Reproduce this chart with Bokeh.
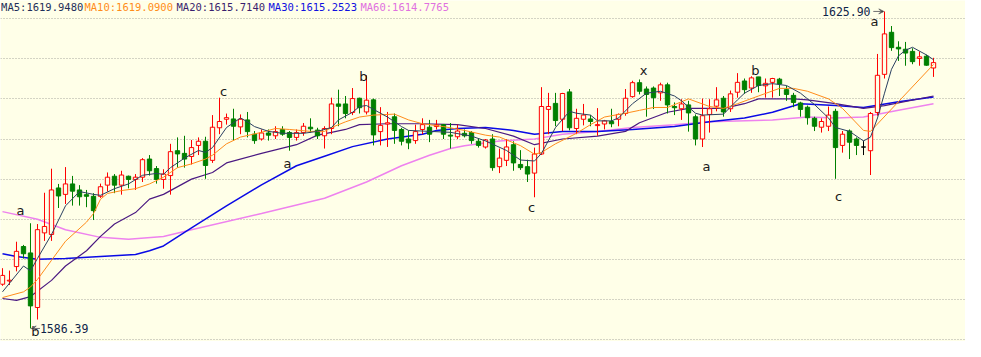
from bokeh.plotting import figure
from bokeh.models import Range1d, FixedTicker, ColumnDataSource, Arrow, VeeHead
from bokeh.core.properties import value
from bokeh.embed import file_html
from bokeh.resources import INLINE

# ---------------- data ----------------
opens = [1591.9, 1592.3, 1594.1, 1596.6, 1595.8, 1589.0, 1598.3, 1598.1, 1603.9, 1603.1,
         1604.4, 1603.65, 1603.06, 1602.86, 1602.86, 1604.25, 1605.36, 1604.25, 1605.36, 1604.96,
         1605.24, 1607.5, 1606.31, 1604.96, 1605.44, 1608.54, 1608.21, 1607.82, 1609.2, 1609.72,
         1607.34, 1611.4, 1612.46, 1612.5, 1611.51, 1612.38, 1610.6, 1610.0, 1610.75, 1610.4,
         1611.19, 1610.8, 1610.2, 1610.8, 1611.47, 1611.11, 1610.4, 1611.31, 1614.37, 1614.37,
         1613.3, 1615.08, 1613.37, 1614.88, 1610.92, 1611.87, 1612.77, 1611.19, 1610.0, 1609.8,
         1611.19, 1611.47, 1611.55, 1611.79, 1610.48, 1610.28, 1610.71, 1610.8, 1609.72, 1609.0,
         1610.0, 1606.55, 1607.34, 1609.29, 1606.83, 1606.55, 1605.75, 1608.13, 1613.69, 1614.44,
         1612.46, 1615.87, 1611.31, 1612.46, 1612.5, 1611.67, 1611.87, 1612.18, 1612.46, 1613.18,
         1615.28, 1617.02, 1616.23, 1616.35, 1615.75, 1616.75, 1614.05, 1613.77, 1614.25, 1612.77,
         1610.0, 1613.06, 1614.09, 1615.08, 1613.77, 1615.83, 1617.23, 1616.35, 1617.74, 1616.63,
         1617.06, 1617.46, 1616.15, 1615.44, 1614.49, 1613.96, 1612.58, 1611.47, 1611.59, 1613.45,
         1609.2, 1611.0, 1610.0, 1609.0, 1608.54, 1613.3, 1618.06, 1623.3, 1621.43, 1621.19,
         1620.92, 1620.04, 1620.32, 1618.85]
highs = [1593.9, 1593.6, 1597.2, 1596.8, 1599.5, 1599.4, 1603.3, 1606.3, 1604.4, 1606.5,
         1605.4, 1604.25, 1603.65, 1603.25, 1604.44, 1605.83, 1605.63, 1606.04, 1605.44, 1605.63,
         1607.62, 1608.0, 1606.63, 1606.23, 1609.4, 1610.2, 1610.4, 1609.88, 1610.2, 1610.28,
         1612.98, 1615.15, 1613.17, 1613.77, 1613.06, 1613.37, 1610.99, 1611.19, 1611.19, 1611.59,
         1611.59, 1610.99, 1611.19, 1611.99, 1612.58, 1611.4, 1611.59, 1615.15, 1616.15, 1615.36,
         1616.35, 1615.15, 1617.94, 1615.04, 1613.97, 1613.37, 1613.18, 1611.39, 1611.07, 1611.79,
         1612.58, 1612.38, 1612.38, 1611.87, 1611.99, 1611.79, 1611.19, 1610.99, 1610.0, 1610.0,
         1610.6, 1608.81, 1610.0, 1609.72, 1608.61, 1607.42, 1608.93, 1616.46, 1615.75, 1615.75,
         1615.75, 1616.23, 1613.77, 1614.37, 1612.98, 1613.85, 1612.38, 1613.77, 1613.18, 1616.23,
         1617.26, 1617.42, 1616.55, 1616.55, 1617.02, 1617.02, 1614.56, 1614.96, 1614.76, 1613.06,
         1615.04, 1614.96, 1616.46, 1615.36, 1616.04, 1618.21, 1617.54, 1617.82, 1617.74, 1617.54,
         1617.62, 1617.62, 1616.63, 1615.75, 1614.64, 1614.17, 1612.78, 1612.58, 1614.05, 1613.77,
         1611.0, 1611.19, 1610.2, 1609.8, 1613.37, 1620.6, 1625.9, 1624.08, 1622.18, 1622.1,
         1621.31, 1620.92, 1620.51, 1620.12]
lows = [1591.7, 1591.8, 1593.5, 1595.1, 1586.39, 1587.5, 1597.3, 1597.3, 1601.4, 1601.9,
        1601.7, 1601.7, 1601.5, 1599.9, 1602.66, 1603.45, 1603.25, 1603.06, 1603.85, 1603.65,
        1604.64, 1605.44, 1604.44, 1603.8, 1603.06, 1606.43, 1606.43, 1606.82, 1608.0, 1605.04,
        1607.02, 1610.6, 1611.79, 1609.8, 1610.6, 1610.2, 1609.4, 1609.8, 1609.8, 1610.0,
        1610.4, 1608.54, 1609.8, 1610.4, 1610.8, 1610.0, 1608.81, 1610.6, 1611.59, 1612.58,
        1612.98, 1613.18, 1613.06, 1609.2, 1609.2, 1609.01, 1609.4, 1609.2, 1608.73, 1609.4,
        1610.6, 1609.61, 1611.19, 1610.0, 1608.81, 1610.0, 1610.2, 1609.4, 1608.93, 1608.81,
        1606.04, 1605.75, 1606.63, 1606.04, 1606.15, 1604.64, 1602.74, 1608.01, 1610.6, 1611.59,
        1610.99, 1611.07, 1610.6, 1611.7, 1611.59, 1610.4, 1611.19, 1611.47, 1611.59, 1612.9,
        1615.15, 1615.56, 1612.78, 1613.73, 1614.76, 1613.18, 1612.98, 1612.38, 1610.92, 1609.2,
        1609.0, 1610.8, 1613.45, 1612.78, 1613.37, 1615.15, 1615.63, 1615.75, 1615.83, 1615.15,
        1615.15, 1615.36, 1614.76, 1613.96, 1612.78, 1611.79, 1610.99, 1610.8, 1610.99, 1605.04,
        1608.3, 1607.5, 1608.0, 1608.0, 1605.51, 1612.9, 1617.54, 1620.99, 1619.73, 1619.13,
        1619.32, 1619.13, 1619.13, 1617.74]
closes = [1593.0, 1592.4, 1596.0, 1595.7, 1589.2, 1598.7, 1599.1, 1603.65, 1602.9, 1604.4,
          1603.5, 1602.8, 1602.86, 1601.07, 1604.05, 1605.24, 1604.25, 1605.51, 1604.96, 1605.24,
          1607.42, 1606.04, 1604.96, 1605.63, 1608.42, 1608.14, 1607.5, 1608.93, 1609.72, 1606.7,
          1611.47, 1612.18, 1612.66, 1611.59, 1612.46, 1610.92, 1609.8, 1610.75, 1610.48, 1610.92,
          1610.6, 1610.2, 1610.8, 1611.59, 1611.27, 1610.4, 1611.31, 1614.37, 1614.08, 1613.17,
          1615.04, 1613.9, 1614.84, 1610.51, 1611.7, 1612.02, 1611.07, 1609.72, 1609.52, 1610.92,
          1611.79, 1610.6, 1611.75, 1610.6, 1610.36, 1610.99, 1610.4, 1609.8, 1609.2, 1609.88,
          1606.43, 1607.62, 1609.01, 1607.02, 1606.43, 1605.63, 1608.13, 1614.05, 1614.05, 1612.3,
          1615.67, 1611.4, 1612.58, 1612.98, 1612.18, 1611.79, 1612.26, 1611.9, 1613.06, 1615.08,
          1617.02, 1615.95, 1615.56, 1615.15, 1616.75, 1614.25, 1613.9, 1614.37, 1613.25, 1610.0,
          1612.9, 1613.77, 1614.88, 1613.37, 1615.63, 1617.06, 1616.15, 1617.62, 1616.67, 1616.94,
          1617.54, 1616.87, 1615.56, 1614.56, 1613.69, 1612.65, 1611.59, 1612.18, 1612.98, 1608.93,
          1610.6, 1609.6, 1609.2, 1609.0, 1613.18, 1617.94, 1623.1, 1621.39, 1621.23, 1620.71,
          1619.64, 1620.24, 1619.2, 1619.52]

ma5_idx = [0, 3, 4, 5, 7, 9, 11, 13, 14, 16, 18, 20, 22, 23, 24, 26, 28, 29, 30, 32, 34, 35, 36, 38,
           40, 43, 45, 47, 48, 50, 51, 52, 54, 55, 57, 58, 61, 64, 67, 69, 72, 74, 76, 77, 79, 81,
           82, 84, 85, 87, 88, 90, 92, 94, 96, 97, 99, 100, 103, 105, 106, 108, 110, 112, 114, 116,
           118, 119, 121, 123, 124, 125, 126, 127, 128, 129, 130, 131, 132, 133]
ma5_val = [1590.95, 1594.17, 1593.57, 1595.12, 1598.1, 1601.67, 1603.45, 1603.1, 1602.98, 1603.81,
           1604.4, 1605.48, 1605.71, 1605.6, 1606.43, 1607.62, 1608.57, 1608.33, 1608.93, 1611.43,
           1612.62, 1612.14, 1611.55, 1610.95, 1610.71, 1610.71, 1610.95, 1611.43, 1612.38, 1613.33,
           1614.05, 1614.17, 1613.21, 1612.74, 1611.55, 1611.07, 1610.95, 1610.83, 1610.36, 1609.76,
           1608.57, 1607.38, 1607.26, 1608.21, 1611.43, 1613.45, 1613.21, 1612.98, 1612.26, 1612.26,
           1612.62, 1614.4, 1615.71, 1615.95, 1615.36, 1614.76, 1613.21, 1612.98, 1613.1, 1614.88,
           1615.71, 1616.67, 1616.9, 1616.67, 1615.71, 1614.29, 1612.62, 1611.43, 1610.95, 1609.76,
           1610.24, 1612.62, 1615.71, 1618.69, 1620.36, 1621.07, 1621.43, 1620.95, 1620.48, 1619.88]

ma10_idx = [0, 3, 4, 5, 7, 9, 12, 13, 14, 15, 17, 19, 21, 23, 25, 27, 29, 30, 32, 34, 37, 39, 41, 44,
            46, 47, 49, 51, 53, 56, 58, 60, 63, 66, 69, 71, 74, 76, 77, 79, 82, 84, 86, 89, 91, 93,
            95, 98, 101, 103, 105, 108, 111, 113, 115, 118, 120, 123, 124, 133]
ma10_val = [1590.24, 1590.95, 1591.55, 1592.5, 1594.88, 1597.26, 1599.64, 1600.71, 1602.5, 1603.21,
            1603.57, 1603.81, 1604.4, 1605.24, 1606.43, 1606.9, 1607.5, 1607.98, 1609.4, 1610.24,
            1610.83, 1611.31, 1611.19, 1610.95, 1610.95, 1611.43, 1612.14, 1612.74, 1612.98, 1613.1,
            1612.38, 1611.9, 1611.55, 1611.07, 1610.48, 1610.24, 1609.17, 1608.1, 1608.33, 1609.4,
            1610.71, 1611.79, 1612.74, 1613.21, 1613.57, 1613.93, 1613.93, 1615.0, 1614.05, 1613.81,
            1614.4, 1615.36, 1616.31, 1616.31, 1615.95, 1615.0, 1613.81, 1611.07, 1610.95, 1619.29]

ma20_idx = [0, 2, 4, 7, 9, 12, 14, 16, 19, 21, 23, 27, 30, 32, 37, 42, 45, 47, 49, 51, 55, 60, 65,
            69, 73, 76, 80, 85, 89, 91, 95, 98, 103, 106, 108, 113, 115, 119, 123, 126, 133]
ma20_val = [1590.12, 1589.88, 1590.36, 1592.38, 1594.17, 1596.07, 1597.86, 1599.4, 1600.83, 1602.5,
            1603.1, 1605.0, 1605.83, 1607.02, 1608.21, 1609.29, 1610.48, 1610.83, 1611.19, 1611.79,
            1611.9, 1611.9, 1611.79, 1611.31, 1610.36, 1609.29, 1610.0, 1610.36, 1610.95, 1612.02,
            1613.33, 1613.81, 1613.81, 1614.4, 1615.0, 1615.0, 1614.88, 1614.4, 1613.81, 1614.17,
            1615.36]

ma30_idx = [0, 2, 5, 9, 14, 19, 21, 23, 27, 32, 37, 42, 46, 50, 55, 60, 62, 65, 69, 73, 76, 80, 85,
            90, 96, 101, 106, 110, 114, 119, 123, 128, 133]
ma30_val = [1595.71, 1595.36, 1595.0, 1595.12, 1595.36, 1595.6, 1596.07, 1596.67, 1598.93, 1601.67,
            1604.29, 1606.67, 1607.86, 1609.05, 1610.0, 1610.6, 1611.07, 1611.31, 1611.43, 1611.07,
            1610.6, 1610.95, 1610.95, 1611.19, 1611.55, 1612.14, 1612.62, 1613.33, 1614.4, 1614.17,
            1613.93, 1614.64, 1615.24]

ma60_idx = [0, 5, 9, 14, 18, 23, 27, 37, 46, 52, 57, 61, 64, 66, 71, 76, 80, 85, 90, 96, 101, 110,
            115, 119, 123, 128, 133]
ma60_val = [1600.95, 1600.0, 1598.69, 1597.74, 1597.5, 1597.86, 1598.69, 1600.71, 1602.62, 1604.64,
            1606.67, 1607.98, 1608.81, 1609.17, 1609.76, 1610.0, 1610.6, 1610.95, 1611.43, 1611.79,
            1612.14, 1612.38, 1612.74, 1612.62, 1612.74, 1613.57, 1614.4]

grid_levels = [1585, 1590, 1595, 1600, 1605, 1610, 1615, 1620, 1625]

header_texts = ["MA5:1619.9480", "MA10:1619.0900", "MA20:1615.7140", "MA30:1615.2523", "MA60:1614.7765"]
header_x = [-0.2, 11.71, 24.86, 38.0, 51.14]
header_colors = ["#1E2F5A", "#FF8C1A", "#3A1F6E", "#1010E0", "#E070E0"]

wave_text = ["a", "b", "c", "a", "b", "c", "x", "a", "b", "c", "a"]
wave_x = [2.57, 4.71, 31.57, 40.71, 51.57, 75.57, 91.57, 100.57, 107.57, 119.43, 124.57]
wave_y = [1601.07, 1585.95, 1615.95, 1606.9, 1617.74, 1601.43, 1618.57, 1606.55, 1618.57, 1602.86, 1624.64]

low_label = "1586.39"
high_label = "1625.90"
low_idx = 4
high_idx = 126

# ---------------- figure ----------------
BG = "#FFFFE8"
RED = "#FF0000"
GREEN = "#008000"

p = figure(width=965, height=341,
           x_range=Range1d(-0.2857, 137.571), y_range=Range1d(1584.762, 1627.262),
           output_backend="svg", toolbar_location=None, min_border=0,
           background_fill_color=BG, border_fill_color=BG, outline_line_color=None)
p.xaxis.visible = False
p.yaxis.visible = False
p.xgrid.visible = False
p.ygrid.ticker = FixedTicker(ticks=grid_levels)
p.ygrid.grid_line_color = "#A8A8A0"
p.ygrid.grid_line_dash = "1 2"
p.ygrid.grid_line_width = 1

idx = list(range(len(opens)))
colors, fills, tops, bottoms = [], [], [], []
for o, c in zip(opens, closes):
    if c > o:
        colors.append(RED); fills.append(BG)
    elif c < o:
        colors.append(GREEN); fills.append(GREEN)
    else:
        colors.append("#000000"); fills.append("#000000")
    tops.append(max(o, c))
    bottoms.append(min(o, c))

src = ColumnDataSource(dict(x=idx, o=opens, h=highs, l=lows, c=closes,
                            color=colors, fill=fills, top=tops, bottom=bottoms))

# moving averages (behind candles)
p.line(ma60_idx, ma60_val, line_color="#EE82EE", line_width=1.5)
p.line(ma30_idx, ma30_val, line_color="#0A0AE6", line_width=1.5)
p.line(ma20_idx, ma20_val, line_color="#4B1A82", line_width=1.2)

p.segment(x0="x", y0="h", x1="x", y1="l", line_color="color", line_width=1, source=src)
p.vbar(x="x", width=0.62, top="top", bottom="bottom", fill_color="fill",
       line_color="color", line_width=1, source=src)

p.line(ma10_idx, ma10_val, line_color="#FF8C1A", line_width=1)
p.line(ma5_idx, ma5_val, line_color="#2B4060", line_width=1)

# wave labels
p.text(x=wave_x, y=wave_y, text=wave_text, text_align="center", text_baseline="middle",
       text_font=value("DejaVu Sans"), text_font_size="13px", text_color="#1A1A1A")

# extreme labels
p.text(x=[low_idx + 1.35], y=[lows[low_idx]], text=[low_label], text_align="left",
       text_baseline="middle", text_font=value("DejaVu Sans Mono"), text_font_size="11.5px",
       text_color="#0E2448")
p.add_layout(Arrow(end=VeeHead(size=5, line_color="#707070", line_width=1),
                   x_start=low_idx + 1.35, y_start=lows[low_idx],
                   x_end=low_idx + 0.1, y_end=lows[low_idx],
                   line_color="#707070", line_width=1))
p.text(x=[high_idx - 2.0], y=[highs[high_idx]], text=[high_label], text_align="right",
       text_baseline="middle", text_font=value("DejaVu Sans Mono"), text_font_size="11.5px",
       text_color="#0E2448")
p.add_layout(Arrow(end=VeeHead(size=5, line_color="#707070", line_width=1),
                   x_start=high_idx - 1.6, y_start=highs[high_idx],
                   x_end=high_idx - 0.1, y_end=highs[high_idx],
                   line_color="#707070", line_width=1))

# header of moving-average values along the top edge
p.text(x=header_x, y=[1627.2] * len(header_texts), text=header_texts, text_color=header_colors,
       text_align="left", text_baseline="top", text_font=value("DejaVu Sans Mono"),
       text_font_size="10.5px")

open("out.html", "w").write(file_html(p, INLINE))
